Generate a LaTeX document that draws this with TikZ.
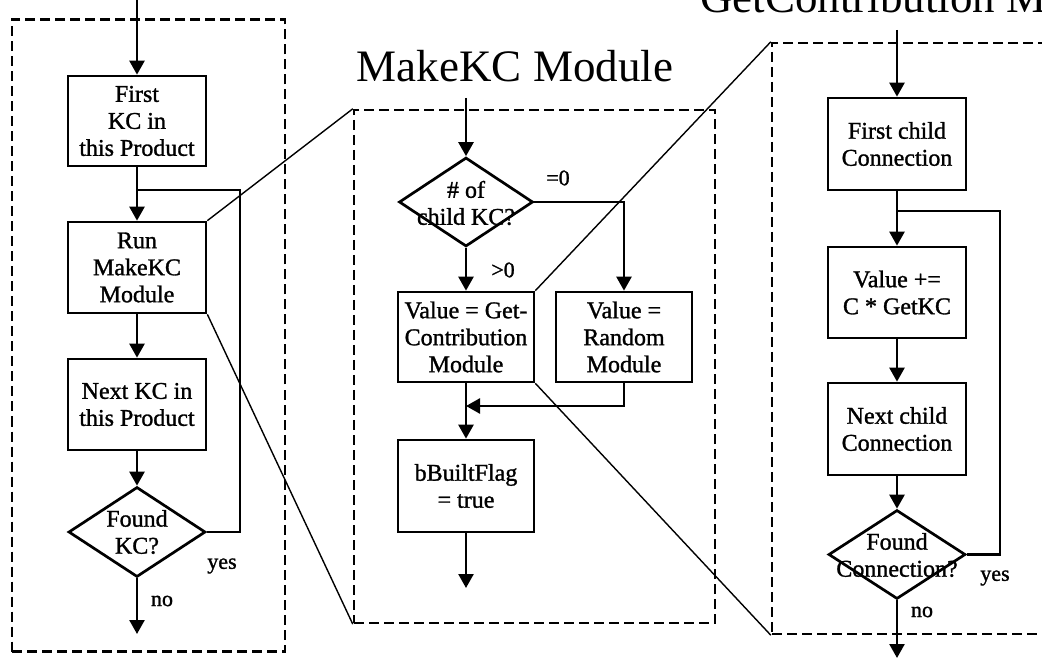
\documentclass[tikz,border=0pt]{standalone}
\usepackage{fontspec}
\setmainfont{Liberation Serif}
% slightly heavier serif for the flowchart texts
\newfontfamily\heavyserif[FakeBold=1.2]{Liberation Serif}
\usetikzlibrary{shapes.geometric,arrows.meta}

\begin{document}
\begin{tikzpicture}[x=1pt,y=-1pt,
  box/.style={draw, line width=2.7pt, minimum width=136pt, minimum height=90pt,
    inner sep=0pt, align=center, font=\heavyserif\fontsize{24}{27}\selectfont},
  dia/.style={draw, diamond, line width=2.7pt, inner sep=0pt,
    minimum width=136pt, minimum height=89pt},
  diatext/.style={align=center, font=\heavyserif\fontsize{24}{27}\selectfont, inner sep=0pt},
  lbl/.style={font=\heavyserif\fontsize{22}{24}\selectfont, inner sep=0pt},
  title/.style={font=\fontsize{45}{50}\selectfont, inner sep=0pt},
  frame/.style={draw, line width=2.4pt, dash pattern=on 10pt off 5pt, inner sep=0pt},
  flow/.style={line width=2.5pt},
  arr/.style={flow, -{Triangle[width=15pt,length=14pt]}},
  zoomline/.style={line width=1.4pt}]

\useasboundingbox (0,0) rectangle (1042,660);
\begin{scope}
\clip (0,0) rectangle (1042,660);

% ---------- frames ----------
\node[frame, minimum width=273pt, minimum height=632pt] (lframe) at (148.5,335.5) {};
\node[frame, minimum width=361pt, minimum height=513pt] (mframe) at (534.5,366.5) {};
\node[frame, minimum width=300pt, minimum height=591pt] (rframe) at (922,338.5) {};

% ---------- titles ----------
\node[title, anchor=base] (mtitle) at (515,82) {MakeKC Module};
\node[title, anchor=base west] (rtitle) at (700,13) {GetContribution Module};

% ---------- main loop ----------
\coordinate (lin) at (137,0);
\node[box, minimum width=138pt] (fk) at (137,121) {First\\KC in\\this Product};
\node[box, minimum width=138pt, minimum height=91pt] (run) at (137,267.5) {Run\\MakeKC\\Module};
\node[box, minimum width=138pt, minimum height=91pt] (nk) at (137,404.5) {Next KC in\\this Product};
\node[dia, minimum width=137pt, minimum height=90pt] (fkc) at (137,532) {};
\node[diatext] (fkct) at (fkc) {Found\\KC?};
\coordinate (lout) at (137,634);
\coordinate (ljoin) at (137,190);
\coordinate (lloop) at (240,190);

\draw[arr] (lin) -- (fk.north);
\draw[arr] (fk.south) -- (run.north);
\draw[arr] (run.south) -- (nk.north);
\draw[arr] (nk.south) -- (fkc.north);
\draw[arr] (fkc.south) -- (lout);
\draw[flow] (fkc.east) -| (lloop) -- (ljoin);
\node[lbl] (lyes) at (222,566) {yes};
\node[lbl] (lno) at (162,601) {no};

% ---------- MakeKC module ----------
\coordinate (min) at (466,98);
\node[dia, minimum width=134pt] (nch) at (466,202) {};
\node[diatext] (ncht) at (466,203) {\# of\\child KC?};
\node[box] (gc) at (466,337) {Value = Get-\\Contribution\\Module};
\node[box] (rnd) at (624,337) {Value =\\Random\\Module};
\node[box, minimum height=92pt] (bb) at (466,486) {bBuiltFlag\\= true};
\coordinate (mjoin) at (466,406);
\coordinate (mout) at (466,588);

\draw[arr] (min) -- (nch.north);
\draw[arr] (nch.south) -- (gc.north);
\draw[arr] (nch.east) -| (rnd.north);
\draw[arr] (rnd.south) |- (mjoin);
\draw[arr] (gc.south) -- (bb.north);
\draw[arr] (bb.south) -- (mout);
\node[lbl] (eq0) at (558,178) {=0};
\node[lbl] (gt0) at (503,270) {>0};

% ---------- GetContribution module ----------
\coordinate (rin) at (897,30);
\node[box, minimum width=138pt, minimum height=92pt] (fc) at (897,144) {First child\\Connection};
\node[box, minimum width=138pt, minimum height=91pt] (vc) at (897,292.5) {Value +=\\C * GetKC};
\node[box, minimum width=138pt, minimum height=92pt] (nc) at (897,429) {Next child\\Connection};
\node[dia, minimum width=137pt] (fcon) at (897,554.5) {};
\node[diatext] (fcont) at (897,555) {Found\\Connection?};
\coordinate (rjoin) at (897,211);
\coordinate (rloop) at (1000,211);
\coordinate (rout) at (897,658);

\draw[arr] (rin) -- (fc.north);
\draw[arr] (fc.south) -- (vc.north);
\draw[arr] (vc.south) -- (nc.north);
\draw[arr] (nc.south) -- (fcon.north);
\draw[arr] (fcon.south) -- (rout);
\draw[flow] (fcon.east) -| (rloop) -- (rjoin);
\node[lbl] (ryes) at (995,578) {yes};
\node[lbl] (rno) at (922,612) {no};

% ---------- expansion lines ----------
\draw[zoomline] (run.north east) -- (mframe.north west);
\draw[zoomline] (run.south east) -- (mframe.south west);
\draw[zoomline] (gc.north east) -- (rframe.north west);
\draw[zoomline] (gc.south east) -- (rframe.south west);
\end{scope}
\end{tikzpicture}
\end{document}
